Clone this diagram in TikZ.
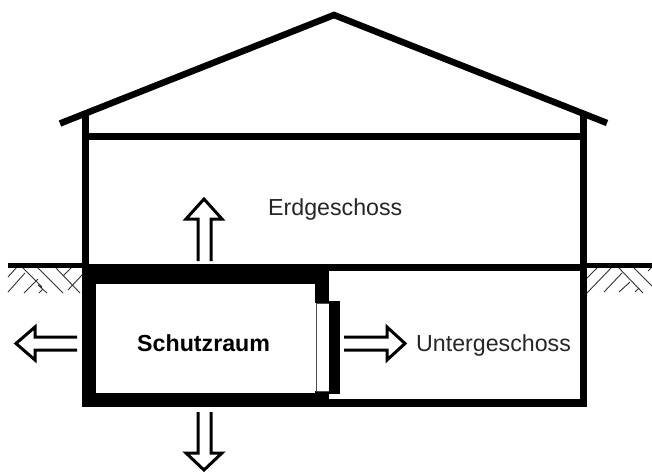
\documentclass[tikz,border=0pt]{standalone}
\usepackage{fontspec}
\setmainfont{Liberation Sans}
\tikzset{
  x=1pt,y=-1pt,
  wall/.style={fill=black,draw=none},
  roofline/.style={draw=black,line width=6.5pt,line join=miter},
  flowarrow/.style={draw=black,line width=3pt,line join=miter,miter limit=6},
  hatchline/.style={draw=black!80,line width=0.9pt},
  lab/.style={inner sep=0pt,font=\fontsize{23.2}{26}\selectfont,text=black!85}
}
\begin{document}
\begin{tikzpicture}
\useasboundingbox (0,0) rectangle (652,471);
\fill[white] (0,0) rectangle (652,471);
% ground hatch
\draw[hatchline] (8,277)--(17,267) (8,292)--(25,273) (22,267)--(42,287) (37,267)--(63,293) (24,293)--(38,279) (38,285)--(47,293) (39,293)--(43,289) (55,267)--(80,293) (63,276)--(72,267) (68,290)--(82,275);
\draw[hatchline] (587,278)--(598,267) (587,293)--(612,267) (604,292)--(622,273) (618,267)--(643,293) (619,292)--(630,282) (635,292)--(639,288) (633,267)--(652,286) (648,271)--(652,267);
% ground lines
\fill[wall] (8,263) rectangle (82,267.5);
\fill[wall] (587,263) rectangle (652,267.5);
% walls
\fill[wall] (82,115) rectangle (89,264);
\fill[wall] (580,115) rectangle (587,407);
\fill[wall] (82,133) rectangle (587,140);
\fill[wall] (82,264) rectangle (587,271);
\fill[wall] (82,264) rectangle (329,284);
\fill[wall] (82,264) rectangle (96,407);
\fill[wall] (82,393) rectangle (329,407);
\fill[wall] (329,399) rectangle (587,407);
\fill[wall] (315,264) rectangle (329,303);
\fill[wall] (315,391) rectangle (329,407);
% door
\draw[draw=black!70,line width=0.8pt,fill=white] (316,303) rectangle (329,391);
\fill[wall] (329,301) rectangle (340,394);
% roof
\draw[roofline] (60,123.5)--(334,15)--(607,123);
% arrows
\draw[flowarrow] (198,261)--(198,219)--(186,219)--(204,199)--(222,219)--(211,219)--(211,261);
\draw[flowarrow] (77,337)--(35,337)--(35,327)--(16,343.5)--(35,360)--(35,350)--(77,350);
\draw[flowarrow] (344,337)--(387,337)--(387,327)--(405,343.5)--(387,360)--(387,350)--(344,350);
\draw[flowarrow] (198,412)--(198,453)--(186,453)--(204,470)--(222,453)--(211,453)--(211,412);
% labels
\node[lab,anchor=base west] (eg) at (268,215) {Erdgeschoss};
\node[lab,anchor=base west] (ug) at (416,351) {Untergeschoss};
\node[lab,anchor=base west,font=\fontsize{23.2}{26}\selectfont\bfseries,text=black] (sr) at (137,351) {Schutzraum};
\end{tikzpicture}
\end{document}
